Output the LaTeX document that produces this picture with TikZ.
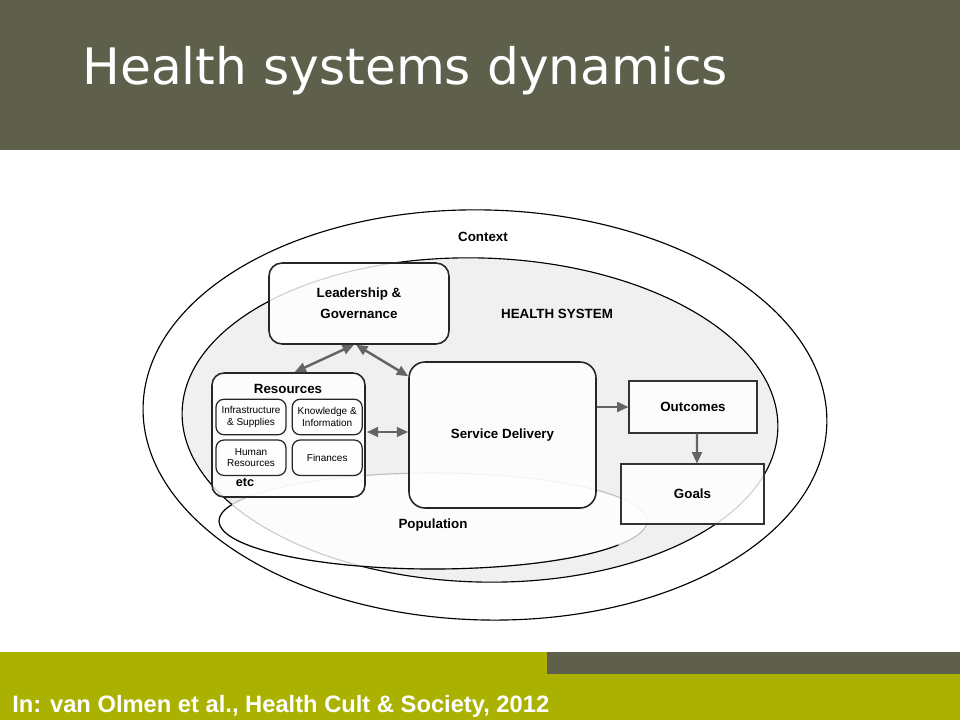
\documentclass[tikz,border=0pt]{standalone}
\usepackage{fontspec}
\setmainfont{Liberation Sans}
\newfontfamily\titlefont{DejaVu Sans}
\usetikzlibrary{arrows.meta, positioning, calc}
\definecolor{headgray}{RGB}{94,96,75}
\definecolor{footgreen}{RGB}{170,177,0}
\definecolor{arrowgray}{RGB}{100,100,100}
\definecolor{hsfill}{RGB}{240,240,240}
\tikzset{
    box/.style={
        rectangle,
        rounded corners=0.26cm,
        draw=black!85,
        line width=0.9pt,
        fill=white,
        fill opacity=0.82,
        text opacity=1,
        align=center,
        font=\fontsize{7.6}{11.9}\selectfont\bfseries
    },
    subbox/.style={
        rectangle,
        rounded corners=0.16cm,
        draw=black!85,
        line width=0.7pt,
        fill=white,
        fill opacity=0.82,
        text opacity=1,
        minimum width=1.4cm,
        minimum height=0.71cm,
        inner sep=0pt,
        align=center,
        font=\fontsize{5.7}{6.6}\selectfont
    },
    outbox/.style={
        rectangle,
        fill=white,
        fill opacity=0.82,
        text opacity=1,
        font=\fontsize{7.6}{9}\selectfont\bfseries
    },
    outline/.style={
        draw=black!80,
        line width=1.15pt
    },
    areatext/.style={
        font=\fontsize{7.6}{9}\selectfont\bfseries
    },
    ring/.style={
        draw=black,
        line width=0.65pt
    },
    arrow/.style={
        -{Triangle[length=6.5pt,width=5.5pt]},
        draw=arrowgray,
        line width=1.4pt
    },
    dblarrow/.style={
        {Triangle[length=6.5pt,width=5.5pt]}-{Triangle[length=6.5pt,width=5.5pt]},
        draw=arrowgray,
        line width=1.4pt
    }
}
\begin{document}
\begin{tikzpicture}[x=0.02cm, y=-0.02cm]
    \useasboundingbox (0,0) rectangle (960,720);

    % Header
    \fill[headgray] (0,0) rectangle (960,150);
    \node[anchor=base west, inner sep=0pt, text=white, font=\titlefont\fontsize{28.6}{30}\selectfont] (title) at (82,84) {Health systems dynamics};

    % Footer
    \fill[footgreen] (0,652) rectangle (960,720);
    \fill[headgray] (547,652) rectangle (960,674);
    \node[anchor=base west, inner sep=0pt, text=white, font=\fontsize{13.5}{15}\selectfont\bfseries] (source) at (12,712) {In: van Olmen et al., Health Cult \& Society, 2012};

    % Context and health system
    \coordinate (ctx) at (485,415);
    \coordinate (hsc) at (480,420);
    \coordinate (popc) at (433,521);
    \draw[ring, fill=white, rotate around={-1.5:(ctx)}] (ctx) ellipse [x radius=342, y radius=205];
    \draw[ring, fill=hsfill, rotate around={-1.7:(hsc)}] (hsc) ellipse [x radius=298, y radius=162];

    % Population
    \fill[white, fill opacity=0.8] (popc) ellipse [x radius=214, y radius=48];
    \draw[ring, draw=black!25] (popc) ellipse [x radius=214, y radius=48];
    \draw[ring] ([shift={(30:214 and 48)}]popc) arc[start angle=30, end angle=200, x radius=214, y radius=48];

    % Leadership
    \node[box, minimum width=3.6cm, minimum height=1.62cm] (lead) at (359,303.5) {Leadership \&\\Governance};

    % Resources
    \node[box, rounded corners=0.24cm, minimum width=3.06cm, minimum height=2.48cm] (res) at (288.5,435) {};
    \node[areatext] (restitle) at (288,389) {Resources};
    \node[subbox] (infra) at (251,417) {Infrastructure\\\& Supplies};
    \node[subbox, right=0.1cm of infra] (know) {Knowledge \&\\Information};
    \node[subbox, below=0.08cm of infra] (human) {Human\\Resources};
    \node[subbox, right=0.1cm of human] (fin) {Finances};
    \node[areatext, font=\fontsize{7.2}{9}\selectfont\bfseries] (etc) at (245,482) {etc};

    % Service delivery
    \node[box, rounded corners=0.32cm, minimum width=3.74cm, minimum height=2.92cm] (sd) at (502.5,435) {Service Delivery};

    % Outcomes and goals
    \node[outbox, minimum width=2.56cm, minimum height=1.04cm] (outc) at (693,407) {Outcomes};
    \node[outbox, minimum width=2.86cm, minimum height=1.2cm] (goals) at (692.5,494) {Goals};
    \draw[outline] (outc.north west) rectangle (outc.south east);
    \draw[outline] (goals.north west) rectangle (goals.south east);

    % Area labels
    \node[areatext] (context) at (483,237) {Context};
    \node[areatext] (hs) at (557,314) {HEALTH SYSTEM};
    \node[areatext] (pop) at (433,525) {Population};

    % Arrows
    \draw[dblarrow] ($(lead.south)+(-5,0)$) -- ($(res.north)+(6,0)$);
    \draw[dblarrow] ($(lead.south)+(-3,0)$) -- ($(sd.north west)+(0,15)$);
    \draw[dblarrow] ($(res.east)+(1,-3)$) -- ($(sd.west)+(0,-3)$);
    \draw[arrow] (sd.east |- outc.west) -- (outc.west);
    \draw[arrow] ($(outc.south)+(4,0)$) -- ($(goals.north)+(4.5,0)$);

\end{tikzpicture}
\end{document}
